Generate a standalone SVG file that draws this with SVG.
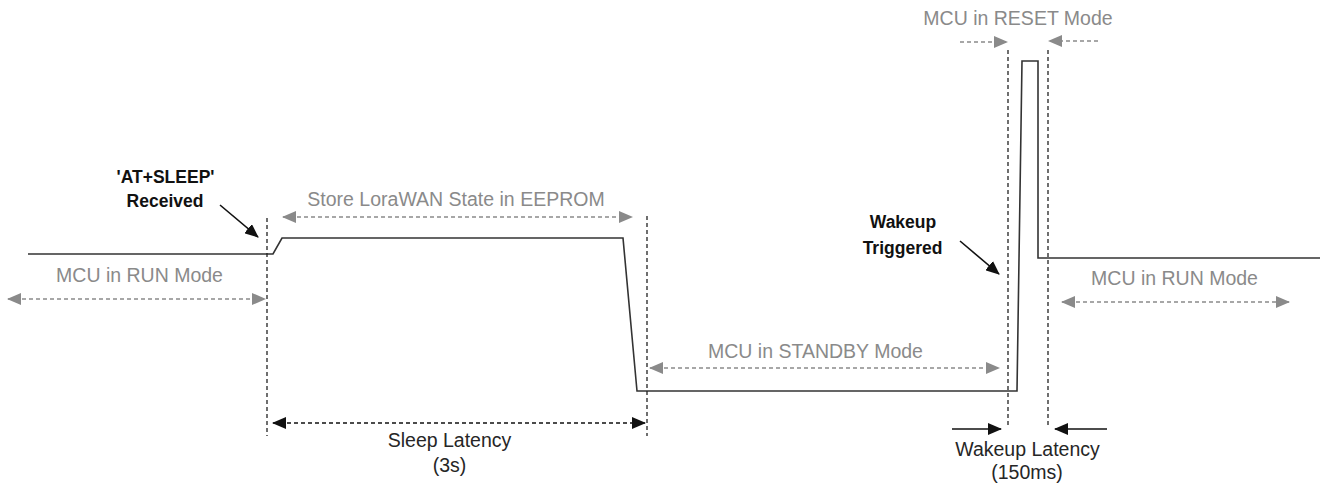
<svg xmlns="http://www.w3.org/2000/svg" width="1320" height="487" viewBox="0 0 1320 487">
<style>
.g{font-family:"Liberation Sans",Arial,sans-serif;font-size:19.5px;fill:#8a8a8a;text-anchor:middle}
.k{font-family:"Liberation Sans",Arial,sans-serif;font-size:19.5px;fill:#262626;text-anchor:middle}
.b{font-family:"Liberation Sans",Arial,sans-serif;font-size:17.5px;font-weight:bold;fill:#111;text-anchor:middle}
.wave{fill:none;stroke:#333;stroke-width:1.6;stroke-linejoin:miter}
.vd{stroke:#222;stroke-width:1.3;stroke-dasharray:4 3;fill:none}
.ga{stroke:#8a8a8a;stroke-width:1.6;stroke-dasharray:4 3;fill:none;marker-start:url(#gh);marker-end:url(#gh)}
.ga1{stroke:#8a8a8a;stroke-width:1.6;stroke-dasharray:4 3;fill:none;marker-end:url(#gh)}
.ka{stroke:#111;stroke-width:1.6;stroke-dasharray:4 3;fill:none;marker-start:url(#kh);marker-end:url(#kh)}
.ks{stroke:#111;stroke-width:1.6;fill:none;marker-end:url(#kh)}
</style>
<defs>
<marker id="gh" markerUnits="userSpaceOnUse" markerWidth="14" markerHeight="12" viewBox="0 0 14 12" refX="13" refY="6" orient="auto-start-reverse"><path d="M0,0 L14,6 L0,12 Z" fill="#8a8a8a"/></marker>
<marker id="kh" markerUnits="userSpaceOnUse" markerWidth="14" markerHeight="12" viewBox="0 0 14 12" refX="13" refY="6" orient="auto-start-reverse"><path d="M0,0 L14,6 L0,12 Z" fill="#111"/></marker>
</defs>
<rect width="1320" height="487" fill="#fff"/>
<g id="waveform">
<path class="wave" d="M28,254 L273,254 L282,238 L623,238 L637,391 L1017,391 L1022,61 L1038,61 L1038,258 L1320,258"/>
</g>
<g id="connectors">
<line class="vd" x1="267" y1="218" x2="267" y2="436"/>
<line class="vd" x1="647" y1="216" x2="647" y2="436"/>
<line class="vd" x1="1008" y1="50" x2="1008" y2="428"/>
<line class="vd" x1="1048" y1="50" x2="1048" y2="428"/>
<line class="ga" x1="8" y1="299" x2="265" y2="299"/>
<line class="ga" x1="283" y1="217" x2="632" y2="217"/>
<line class="ga" x1="650" y1="368" x2="999" y2="368"/>
<line class="ga" x1="1062" y1="302" x2="1289" y2="302"/>
<line class="ga1" x1="960" y1="42" x2="1007" y2="42"/>
<line class="ga1" x1="1098" y1="41" x2="1049" y2="41"/>
<line class="ka" x1="273" y1="423" x2="645" y2="423"/>
<line class="ks" x1="952" y1="429" x2="1001" y2="429"/>
<line class="ks" x1="1107" y1="429" x2="1055" y2="429"/>
<line class="ks" x1="220" y1="205" x2="258" y2="237"/>
<line class="ks" x1="960" y1="241" x2="999" y2="274"/>
</g>
<g id="label-at-sleep"><text class="b" x="165.5" y="183">'AT+SLEEP'</text><text class="b" x="165" y="207">Received</text></g>
<g id="label-run-left"><text class="g" x="139.5" y="282">MCU in RUN Mode</text></g>
<g id="label-store"><text class="g" x="456" y="206">Store LoraWAN State in EEPROM</text></g>
<g id="label-standby"><text class="g" x="815.5" y="358">MCU in STANDBY Mode</text></g>
<g id="label-reset"><text class="g" x="1018" y="25">MCU in RESET Mode</text></g>
<g id="label-run-right"><text class="g" x="1174.5" y="285">MCU in RUN Mode</text></g>
<g id="label-wakeup"><text class="b" x="903" y="228">Wakeup</text><text class="b" x="902.5" y="254">Triggered</text></g>
<g id="label-sleep-latency"><text class="k" x="449.5" y="447">Sleep Latency</text><text class="k" x="449.5" y="472">(3s)</text></g>
<g id="label-wakeup-latency"><text class="k" x="1027.5" y="456">Wakeup Latency</text><text class="k" x="1027" y="479">(150ms)</text></g>
</svg>
